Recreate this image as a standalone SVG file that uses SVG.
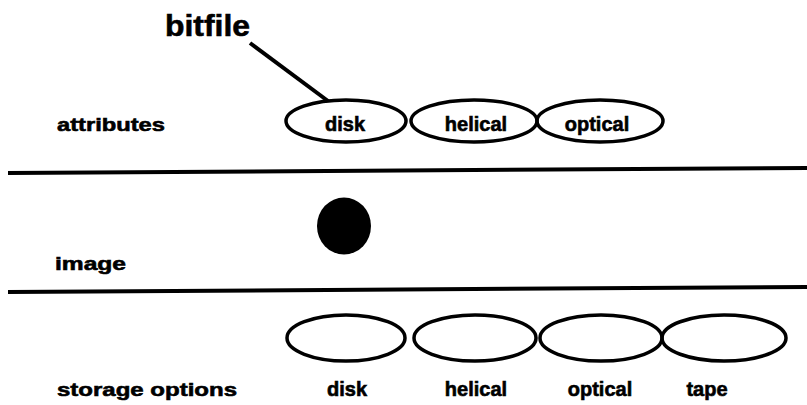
<svg xmlns="http://www.w3.org/2000/svg" width="807" height="405" viewBox="0 0 807 405">
<style>
text{font-family:"Liberation Sans",Arial,sans-serif;font-weight:bold;fill:#000;stroke:#000;stroke-width:0.6}
.lbl{font-size:19px}
.node{font-size:20px;text-anchor:middle}
.ell{fill:none;stroke:#000;stroke-width:3.5}
.rule{stroke:#000;stroke-width:4}
</style>
<rect width="807" height="405" fill="#fff"/>
<g id="rows">
<line class="rule" x1="8" y1="173" x2="807" y2="168"/>
<line class="rule" x1="8" y1="292" x2="807" y2="287"/>
<text class="lbl" x="57" y="131" textLength="108" lengthAdjust="spacingAndGlyphs">attributes</text>
<text class="lbl" x="55" y="270" textLength="71" lengthAdjust="spacingAndGlyphs">image</text>
<text class="lbl" x="57" y="396" textLength="180" lengthAdjust="spacingAndGlyphs">storage options</text>
</g>
<g id="bitfile">
<text x="165" y="36" font-size="30" textLength="85" lengthAdjust="spacingAndGlyphs">bitfile</text>
</g>
<g id="connectors">
<line x1="250" y1="43" x2="328" y2="101" stroke="#000" stroke-width="4"/>
</g>
<g id="attr-disk"><ellipse class="ell" cx="346" cy="121" rx="60" ry="21"/><text class="node" x="345" y="131">disk</text></g>
<g id="attr-helical"><ellipse class="ell" cx="474" cy="121" rx="63" ry="21"/><text class="node" x="476" y="131">helical</text></g>
<g id="attr-optical"><ellipse class="ell" cx="600" cy="121" rx="63" ry="21"/><text class="node" x="597" y="131">optical</text></g>
<g id="image-dot"><ellipse cx="344" cy="226" rx="27" ry="28.5" fill="#000"/></g>
<g id="store-disk"><ellipse class="ell" cx="346" cy="338" rx="59" ry="23"/><text class="node" x="347" y="396">disk</text></g>
<g id="store-helical"><ellipse class="ell" cx="475" cy="338" rx="61" ry="23"/><text class="node" x="476" y="396">helical</text></g>
<g id="store-optical"><ellipse class="ell" cx="601" cy="338" rx="61" ry="23"/><text class="node" x="600" y="396">optical</text></g>
<g id="store-tape"><ellipse class="ell" cx="724" cy="338" rx="62" ry="23"/><text class="node" x="707" y="396">tape</text></g>
</svg>
